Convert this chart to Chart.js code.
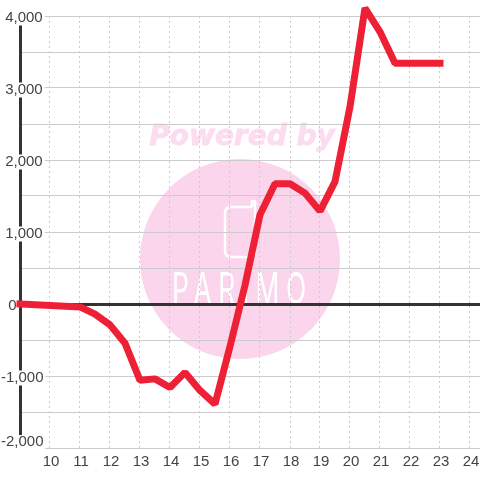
<!DOCTYPE html>
<html>
<head>
<meta charset="utf-8">
<script src="https://cdn.jsdelivr.net/npm/chart.js@4"></script>
<style>
html, body { margin: 0; padding: 0; background: #fff; }
canvas { display: block; }
</style>
</head>
<body>
<canvas id="chart" width="480" height="480"></canvas>
<script>
const hours = [9, 11, 11.5, 12, 12.5, 13, 13.5, 14, 14.5, 15, 15.5, 16, 16.5, 17, 17.5, 18, 18.5, 19, 19.5, 20, 20.5, 21, 21.5, 22, 22.5, 23];
const values = [0, -40, -140, -290, -545, -1060, -1040, -1160, -950, -1200, -1390, -590, 260, 1240, 1670, 1670, 1540, 1290, 1700, 2740, 4110, 3780, 3345, 3345, 3345, 3345];

const textColor = '#444';
const axisColor = '#333';
const gridColor = '#ccc';

const watermark = {
    id: 'watermark',
    beforeDraw(chart) {
        const c = chart.ctx;
        c.save();
        c.fillStyle = '#fff';
        c.fillRect(0, 0, chart.width, chart.height);

        c.fillStyle = '#fbd5ec';
        c.beginPath();
        c.arc(240, 259, 100, 0, Math.PI * 2);
        c.fill();

        c.fillStyle = '#fcdcf0';
        c.strokeStyle = '#fcdcf0';
        c.lineWidth = 0.8;
        c.font = 'italic bold 28px "DejaVu Sans"';
        c.textAlign = 'center';
        c.fillText('Powered by', 242, 145);
        c.strokeText('Powered by', 242, 145);

        c.strokeStyle = '#fff';
        c.lineWidth = 2.5;
        c.lineJoin = 'round';
        c.beginPath();
        c.moveTo(252, 207);
        c.lineTo(231, 207);
        c.quadraticCurveTo(225, 207, 225, 213);
        c.lineTo(225, 251);
        c.quadraticCurveTo(225, 257, 231, 257);
        c.lineTo(250, 257);
        c.quadraticCurveTo(255, 257, 255, 251);
        c.lineTo(255, 201);
        c.lineTo(252, 201);
        c.lineTo(252, 207);
        c.stroke();

        c.fillStyle = '#fff';
        c.font = '400 44px Inter';
        c.textAlign = 'left';
        c.letterSpacing = '11px';
        c.setTransform(0.6, 0, 0, 1, 172, 304);
        c.fillText('PARIMO', 0, 0);
        c.restore();
    },
    // the two-line -2,000 label cannot carry a backdrop, so its gap in the axis is painted here
    beforeDatasetsDraw(chart) {
        const c = chart.ctx;
        c.save();
        c.fillStyle = '#fff';
        c.fillRect(0, 435, 45, 14);
        c.restore();
    }
};

// ticks sit on top of the axis line, so they are mirrored to escape the scale clip
function yLabel(v) {
    if (v === -2000) return ['-2,000', ''];
    if (v === -1000) return '-1,000';
    if (v === 0) return ' \u20090';
    return v % 1000 === 0 ? ' ' + v.toLocaleString('en-US') : '';
}

new Chart(document.getElementById('chart'), {
    type: 'line',
    data: {
        datasets: [{
            data: hours.map((h, i) => ({ x: h, y: values[i] })),
            borderColor: '#ee2035',
            borderWidth: 7,
            borderJoinStyle: 'bevel',
            borderCapStyle: 'square',
            pointRadius: 0,
            tension: 0,
            clip: false
        }]
    },
    plugins: [watermark],
    options: {
        responsive: false,
        animation: false,
        layout: { autoPadding: false, padding: { top: 16 } },
        plugins: { legend: { display: false }, tooltip: { enabled: false } },
        scales: {
            x: {
                type: 'linear',
                min: 9,
                max: 9 + 460 / 30,
                afterFit(scale) {
                    scale.height = 32;
                    scale.paddingLeft = 0;
                    scale.paddingRight = 0;
                },
                border: { display: false, dash: [2, 3] },
                grid: {
                    color: gridColor,
                    lineWidth: 1,
                    drawTicks: false
                },
                ticks: {
                    stepSize: 1,
                    includeBounds: false,
                    autoSkip: false,
                    maxRotation: 0,
                    padding: 5,
                    labelOffset: 1,
                    color: textColor,
                    font: { family: '"Liberation Sans"', size: 15 },
                    callback: v => (v === 9 ? '' : String(v))
                }
            },
            y: {
                min: -2000,
                max: 4000,
                afterFit(scale) {
                    scale.width = 20;
                    scale.paddingTop = 0;
                    scale.paddingBottom = 0;
                },
                border: { color: axisColor, width: 3 },
                grid: {
                    drawTicks: false,
                    color: ctx => (ctx.tick.value === 0 ? axisColor : gridColor),
                    lineWidth: ctx => (ctx.tick.value === 0 ? 3 : 1)
                },
                ticks: {
                    z: 1,
                    stepSize: 500,
                    autoSkip: false,
                    mirror: true,
                    padding: -19,
                    labelOffset: 2,
                    color: textColor,
                    font: ctx => ({ family: '"Liberation Sans"', size: 15, lineHeight: ctx.tick && ctx.tick.value === -2000 ? '17px' : 1 }),
                    showLabelBackdrop: ctx => ctx.tick.value !== 0 && ctx.tick.value !== -2000 && ctx.tick.value % 1000 === 0,
                    backdropColor: '#fff',
                    backdropPadding: { x: 2, y: 0 },
                    callback: yLabel
                }
            }
        }
    }
});
</script>
</body>
</html>
